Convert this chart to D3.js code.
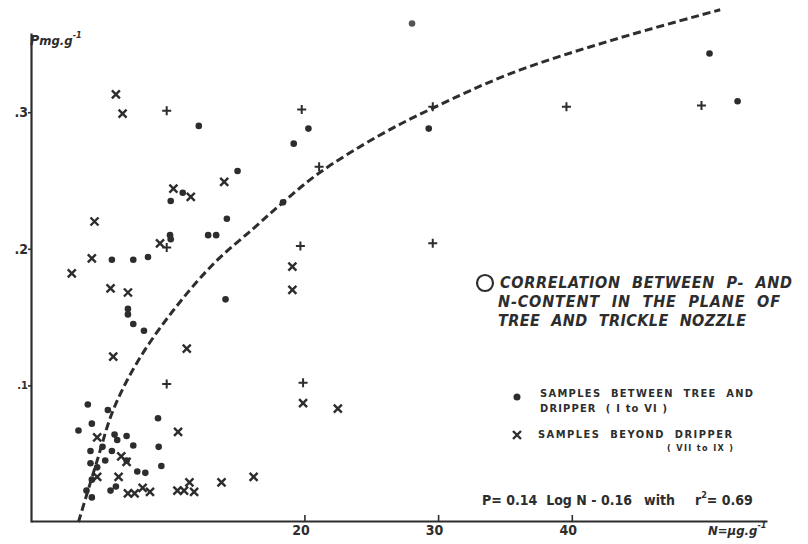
<!DOCTYPE html>
<html lang="en">

<head>
    <meta charset="utf-8">
    <style>
        body { margin: 0; background: #fff; }
        svg { display: block; }
        text { font-family: "DejaVu Sans Condensed", "DejaVu Sans", sans-serif; font-weight: bold; fill: #2d2d2d; }
    </style>
</head>

<body>

    <script type='text/javascript' src='https://d3js.org/d3.v7.min.js'></script>

    <svg width="808" height="544"></svg>

    <script>
        // N (ug/g) and P (mg/g)
        var dotN = [12.1, 19.2, 20.3, 15.0, 10.9, 10.0, 18.4, 14.2, 12.8, 13.4, 9.95, 10.0, 5.6, 7.2, 8.3,
            6.8, 6.8, 7.2, 8.0, 14.1, 29.3, 50.3, 52.4, 28.05,
            3.8, 5.3, 9.05, 3.1, 4.1, 5.8, 6.0, 6.7, 4.0, 4.9, 5.6, 7.2, 9.1, 5.1, 4.0, 4.5, 4.1,
            6.7, 7.5, 8.1, 9.3, 5.9, 5.5, 3.7, 4.1];
        var dotP = [0.290, 0.277, 0.288, 0.257, 0.241, 0.235, 0.234, 0.222, 0.210, 0.210, 0.210, 0.207, 0.192, 0.192, 0.194,
            0.156, 0.152, 0.145, 0.140, 0.163, 0.288, 0.343, 0.308, 0.365,
            0.086, 0.082, 0.076, 0.067, 0.072, 0.064, 0.060, 0.063, 0.052, 0.055, 0.052, 0.056, 0.055, 0.045, 0.043, 0.040, 0.031,
            0.045, 0.037, 0.036, 0.041, 0.026, 0.023, 0.023, 0.018];

        var crossN = [5.9, 6.4, 14.0, 10.2, 11.5, 4.3, 9.2, 2.6, 4.1, 5.5, 6.8, 19.1, 19.1, 11.2, 5.7, 19.9, 22.5,
            10.55, 4.5, 4.5, 6.3, 6.7, 6.1, 6.8, 7.3, 7.9, 8.45, 10.5, 11.0, 11.4, 11.75, 13.8, 16.2];
        var crossP = [0.313, 0.299, 0.249, 0.244, 0.238, 0.220, 0.204, 0.182, 0.193, 0.171, 0.168, 0.187, 0.170, 0.127, 0.121, 0.087, 0.083,
            0.066, 0.062, 0.033, 0.048, 0.044, 0.033, 0.021, 0.021, 0.025, 0.022, 0.023, 0.023, 0.029, 0.022, 0.029, 0.033];

        var plusN = [9.7, 19.8, 21.1, 29.6, 39.6, 49.7, 9.7, 19.7, 29.6, 9.7, 19.9];
        var plusP = [0.301, 0.302, 0.260, 0.304, 0.304, 0.305, 0.201, 0.202, 0.204, 0.101, 0.102];

        // dashed regression curve
        var curveN = [3.1, 4.5, 5.7, 7.5, 10.2, 13.3, 16.2, 18.4, 21.1, 25.6, 29.6, 35.6, 43.1, 51.1];
        var curveP = [0.0, 0.045, 0.082, 0.117, 0.155, 0.190, 0.215, 0.234, 0.2555, 0.283, 0.303, 0.329, 0.353, 0.375];

        var xTicks = [20, 30, 40];
        var xTickLabels = ["20", "30", "40"];
        var yTicks = [0.1, 0.2, 0.3];
        var yTickLabels = [".1", ".2", ".3"];

        var ink = "#2d2d2d";
        var svg = d3.select("svg");

        svg.append("rect").attr("width", 808).attr("height", 544).attr("fill", "#fff");

        var x = d3.scaleLinear().domain([-0.45, 54.6]).range([31, 767]);
        var y = d3.scaleLinear().domain([0, 0.358]).range([522, 33]);

        // axes
        var gx = svg.append("g")
            .attr("transform", "translate(0," + 521 + ")")
            .call(d3.axisBottom(x).tickValues(xTicks).tickSizeInner(-6).tickSizeOuter(0).tickPadding(4)
                .tickFormat(function (d, i) { return xTickLabels[i]; }));
        gx.select(".domain").attr("stroke", ink).attr("stroke-width", 2.2);
        gx.selectAll(".tick line").attr("stroke", ink).attr("stroke-width", 1.6);
        gx.selectAll(".tick text").attr("font-size", 14).attr("fill", ink).attr("dx", -4);

        var gy = svg.append("g")
            .attr("transform", "translate(" + 31 + ",0)")
            .call(d3.axisLeft(y).tickValues(yTicks).tickSizeInner(3).tickSizeOuter(0).tickPadding(0)
                .tickFormat(function (d, i) { return yTickLabels[i]; }));
        gy.select(".domain").attr("stroke", ink).attr("stroke-width", 2.2);
        gy.selectAll(".tick line").attr("stroke", ink).attr("stroke-width", 1.6);
        gy.selectAll(".tick text").attr("font-size", function (d) { return d < 0.15 ? 11 : 14; }).attr("fill", ink);

        // axis titles
        var yt = svg.append("text").attr("x", 30).attr("y", 45).attr("font-size", 13).attr("font-style", "italic");
        yt.append("tspan").attr("font-size", 14).text("P");
        yt.append("tspan").text("mg.g");
        yt.append("tspan").attr("font-size", 9).attr("dy", -7).text("-1");

        var xt = svg.append("text").attr("x", 708).attr("y", 535).attr("font-size", 13).attr("font-style", "italic");
        xt.append("tspan").text("N=µg.g");
        xt.append("tspan").attr("font-size", 9).attr("dy", -7).text("-1");

        // curve
        var line = d3.line()
            .x(function (d, i) { return x(curveN[i]); })
            .y(function (d, i) { return y(curveP[i]); })
            .curve(d3.curveCatmullRom.alpha(0.5));
        svg.append("path")
            .attr("d", line(curveN))
            .attr("fill", "none")
            .attr("stroke", ink)
            .attr("stroke-width", 3)
            .attr("stroke-dasharray", "8,4");

        // points
        svg.selectAll(".dot")
            .data(dotN)
            .enter().append("circle")
            .attr("class", "dot")
            .attr("cx", function (d) { return x(d); })
            .attr("cy", function (d, i) { return y(dotP[i]); })
            .attr("r", 3.3)
            .attr("fill", function (d, i) { return i == 23 ? "#555" : ink; });

        svg.selectAll(".cross")
            .data(crossN)
            .enter().append("path")
            .attr("class", "cross")
            .attr("transform", function (d, i) { return "translate(" + x(d) + "," + y(crossP[i]) + ")"; })
            .attr("d", "M-4,-4L4,4M-4,4L4,-4")
            .attr("stroke", ink)
            .attr("stroke-width", 2.4);

        svg.selectAll(".plus")
            .data(plusN)
            .enter().append("path")
            .attr("class", "plus")
            .attr("transform", function (d, i) { return "translate(" + x(d) + "," + y(plusP[i]) + ")"; })
            .attr("d", "M-4.5,0H4.5M0,-4.5V4.5")
            .attr("stroke", ink)
            .attr("stroke-width", 2);

        // title block
        svg.append("circle").attr("cx", 485).attr("cy", 283).attr("r", 8)
            .attr("fill", "none").attr("stroke", ink).attr("stroke-width", 2.2);
        var titleLines = ["CORRELATION  BETWEEN  P-  AND", "N-CONTENT  IN  THE  PLANE  OF", "TREE  AND  TRICKLE  NOZZLE"];
        var titleWidths = [292, 282, 248];
        svg.selectAll(".title")
            .data(titleLines)
            .enter().append("text")
            .attr("class", "title")
            .attr("x", function (d, i) { return i == 0 ? 500 : 498; })
            .attr("y", function (d, i) { return 288 + i * 19; })
            .attr("font-size", 16)
            .attr("font-style", "italic")
            .attr("textLength", function (d, i) { return titleWidths[i]; })
            .attr("lengthAdjust", "spacing")
            .style("white-space", "pre")
            .text(function (d) { return d; });

        // legend
        svg.append("circle").attr("cx", 517).attr("cy", 397).attr("r", 3.5).attr("fill", ink);
        svg.append("path").attr("transform", "translate(517,435)")
            .attr("d", "M-4,-4L4,4M-4,4L4,-4").attr("stroke", ink).attr("stroke-width", 2.4);

        var legendLines = [
            { t: "SAMPLES  BETWEEN  TREE  AND", x: 540, y: 397, w: 213, s: 11 },
            { t: "DRIPPER  ( I to VI )", x: 540, y: 412, w: 127, s: 11 },
            { t: "SAMPLES  BEYOND  DRIPPER", x: 538, y: 438, w: 194, s: 11 },
            { t: "( VII to IX )", x: 667, y: 451, w: 66, s: 9 }
        ];
        svg.selectAll(".leg")
            .data(legendLines)
            .enter().append("text")
            .attr("class", "leg")
            .attr("x", function (d) { return d.x; })
            .attr("y", function (d) { return d.y; })
            .attr("font-size", function (d) { return d.s; })
            .attr("textLength", function (d) { return d.w; })
            .attr("lengthAdjust", "spacing")
            .style("white-space", "pre")
            .text(function (d) { return d.t; });

        // equation
        svg.append("text").attr("x", 482).attr("y", 505).attr("font-size", 14)
            .attr("textLength", 150).attr("lengthAdjust", "spacing")
            .style("white-space", "pre")
            .text("P= 0.14  Log N - 0.16");
        svg.append("text").attr("x", 644).attr("y", 505).attr("font-size", 14).text("with");
        var eq = svg.append("text").attr("x", 695).attr("y", 505).attr("font-size", 14);
        eq.append("tspan").text("r");
        eq.append("tspan").attr("font-size", 9).attr("dy", -7).text("2");
        eq.append("tspan").attr("dy", 7).text("= 0.69");
    </script>
</body>

</html>
